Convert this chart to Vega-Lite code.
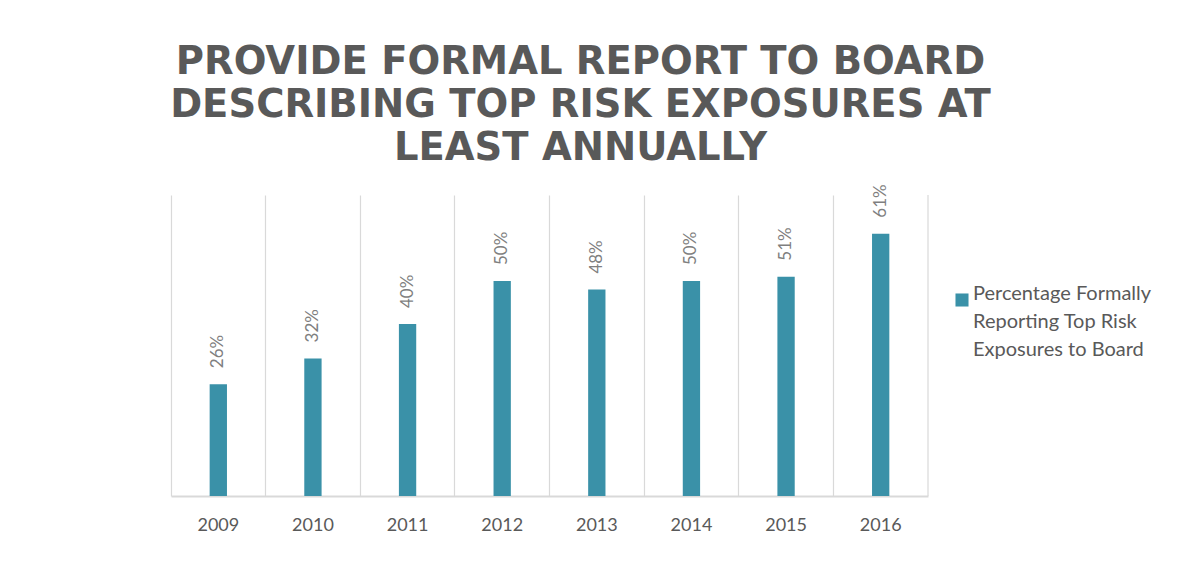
{
  "$schema": "https://vega.github.io/schema/vega-lite/v6.json",
  "width": 757,
  "height": 301,
  "autosize": {"type": "none"},
  "padding": {"left": 171, "top": 195, "right": 274, "bottom": 71},
  "background": "white",
  "config": {"view": {"stroke": null}, "font": "Lato", "style": {"guide-label": {"lineHeight": 28}}},
  "title": {
    "text": ["PROVIDE FORMAL REPORT TO BOARD", "DESCRIBING TOP RISK EXPOSURES AT", "LEAST ANNUALLY"],
    "font": "DejaVu Sans",
    "fontSize": 38.5,
    "fontWeight": "bold",
    "color": "#595959",
    "lineHeight": 43,
    "anchor": "middle",
    "frame": "group",
    "dx": 31,
    "offset": 16
  },
  "data": {
    "values": [
      {"year": "2009", "pct": 0.26, "series": "Percentage Formally Reporting Top Risk Exposures to Board"},
      {"year": "2010", "pct": 0.32, "series": "Percentage Formally Reporting Top Risk Exposures to Board"},
      {"year": "2011", "pct": 0.40, "series": "Percentage Formally Reporting Top Risk Exposures to Board"},
      {"year": "2012", "pct": 0.50, "series": "Percentage Formally Reporting Top Risk Exposures to Board"},
      {"year": "2013", "pct": 0.48, "series": "Percentage Formally Reporting Top Risk Exposures to Board"},
      {"year": "2014", "pct": 0.50, "series": "Percentage Formally Reporting Top Risk Exposures to Board"},
      {"year": "2015", "pct": 0.51, "series": "Percentage Formally Reporting Top Risk Exposures to Board"},
      {"year": "2016", "pct": 0.61, "series": "Percentage Formally Reporting Top Risk Exposures to Board"}
    ]
  },
  "layer": [
    {
      "mark": {"type": "bar", "width": {"band": 0.183}},
      "encoding": {
        "x": {
          "field": "year", "type": "ordinal",
          "scale": {"paddingInner": 0, "paddingOuter": 0},
          "axis": {
            "title": null, "labelAngle": 0, "ticks": false, "bandPosition": 0,
            "grid": true, "gridColor": "#d9d9d9", "gridWidth": 1.2,
            "domainColor": "#d9d9d9", "domainWidth": 1.8,
            "labelFont": "Lato", "labelFontSize": 18, "labelColor": "#595959",
            "labelPadding": 20
          }
        },
        "y": {
          "field": "pct", "type": "quantitative",
          "scale": {"domain": [0, 0.7], "nice": false},
          "axis": null
        },
        "color": {
          "field": "series", "type": "nominal",
          "scale": {"range": ["#3A91A8"]},
          "legend": {
            "title": null, "orient": "none", "legendX": 781, "legendY": 95,
            "symbolType": "square", "symbolSize": 170, "symbolStrokeWidth": 0,
            "labelFont": "Lato", "labelFontSize": 20, "labelColor": "#595959",
            "labelBaseline": "alphabetic", "labelOffset": 1, "labelLimit": 300,
            "labelExpr": "['Percentage Formally', 'Reporting Top Risk', 'Exposures to Board']"
          }
        }
      }
    },
    {
      "mark": {"type": "text", "angle": 270, "align": "left", "baseline": "middle", "dx": 16, "font": "Lato", "fontSize": 17, "color": "#7f7f7f"},
      "encoding": {
        "x": {"field": "year", "type": "ordinal"},
        "y": {"field": "pct", "type": "quantitative"},
        "text": {"field": "pct", "type": "quantitative", "format": ".0%"}
      }
    },
    {
      "data": {"values": [{"edge": "2016"}]},
      "mark": {"type": "rule", "color": "#d9d9d9", "strokeWidth": 1.2},
      "encoding": {
        "x": {"field": "edge", "type": "ordinal", "bandPosition": 1}
      }
    }
  ]
}
